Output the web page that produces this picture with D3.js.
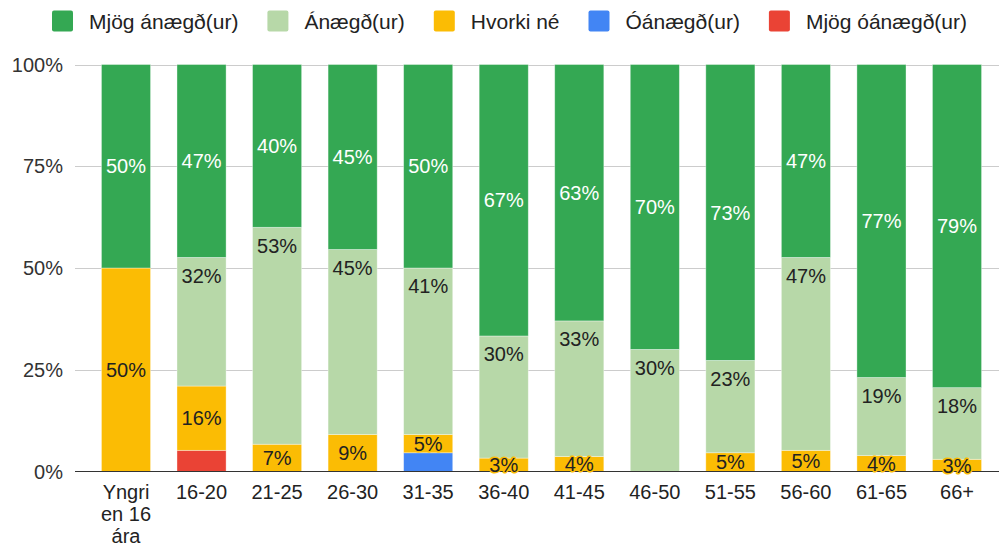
<!DOCTYPE html>
<html>
<head>
<meta charset="utf-8">
<script src="https://cdn.jsdelivr.net/npm/d3@7"></script>
<style>
    body { margin: 0; background: #fff; }
    svg { display: block; font-family: "Liberation Sans", Arial, sans-serif; }
</style>
</head>
<body>
<div id="chart"></div>
<script>
var categories = ["Yngri en 16 ára", "16-20", "21-25", "26-30", "31-35", "36-40",
    "41-45", "46-50", "51-55", "56-60", "61-65", "66+"];

// percentages per age group
var mjogAnaegd  = [50, 47.4, 40.0, 45.45, 50.0, 66.7, 63.0, 70, 72.7, 47.4, 76.9, 79.4];
var anaegd      = [0, 31.6, 53.3, 45.45, 40.9, 30.0, 33.3, 30, 22.7, 47.4, 19.2, 17.6];
var hvorkiNe    = [50, 15.8, 6.7, 9.1, 4.5, 3.3, 3.7, 0, 4.6, 5.2, 3.9, 3.0];
var oanaegd     = [0, 0, 0, 0, 4.6, 0, 0, 0, 0, 0, 0, 0];
var mjogOanaegd = [0, 5.2, 0, 0, 0, 0, 0, 0, 0, 0, 0, 0];

var seriesNames = ["Mjög ánægð(ur)", "Ánægð(ur)", "Hvorki né", "Óánægð(ur)", "Mjög óánægð(ur)"];
var seriesColors = ["#34a853", "#b7d8a8", "#fbbc04", "#4285f4", "#ea4335"];
var seriesLabelColors = ["#fff", "#222", "#222", "#222", "#222"];
var seriesShowLabels = [true, true, true, false, false];
// where the value label sits in its segment
var seriesLabelPos = ["center", "top", "center", "center", "center"];
var yTicks = [0, 25, 50, 75, 100];

var seriesValues = [mjogAnaegd, anaegd, hvorkiNe, oanaegd, mjogOanaegd];

var width = 999,
    height = 544;

var rows = categories.map(function(c, i) {
    var row = { cat: c };
    seriesNames.forEach(function(s, j) { row[s] = seriesValues[j][i]; });
    return row;
});

// stack from the bottom: red first, dark green last
var stack = d3.stack()
    .keys(seriesNames.slice().reverse())
    .offset(d3.stackOffsetExpand);
var layers = stack(rows);

var x = d3.scaleBand()
    .domain(categories)
    .range([75, 1008])
    .paddingInner(0.35)
    .paddingOuter(0.35);

var y = d3.scaleLinear()
    .domain([0, 1])
    .range([471.5, 64.5]);

var svg = d3.select("#chart")
    .append("svg")
    .attr("width", width)
    .attr("height", height);

// grid
svg.append("g")
    .selectAll("line")
    .data(yTicks.filter(function(t) { return t > 0; }))
    .enter()
    .append("line")
    .attr("x1", 75)
    .attr("x2", width)
    .attr("y1", function(d) { return Math.round(y(d / 100)) + 0.5; })
    .attr("y2", function(d) { return Math.round(y(d / 100)) + 0.5; })
    .attr("stroke", "#cccccc")
    .attr("stroke-width", 1);

// y tick labels
svg.append("g")
    .selectAll("text")
    .data(yTicks)
    .enter()
    .append("text")
    .attr("x", 63)
    .attr("y", function(d) { return y(d / 100); })
    .attr("dy", "0.36em")
    .attr("text-anchor", "end")
    .attr("font-size", 20)
    .attr("fill", "#333")
    .text(function(d) { return d + "%"; });

// bars
var layerG = svg.append("g")
    .selectAll("g")
    .data(layers)
    .enter()
    .append("g")
    .attr("fill", function(d) { return seriesColors[seriesNames.indexOf(d.key)]; });

layerG.selectAll("rect")
    .data(function(d) { return d.filter(function(p) { return p[1] - p[0] > 0; }); })
    .enter()
    .append("rect")
    .attr("x", function(d) { return x(d.data.cat); })
    .attr("width", x.bandwidth())
    .attr("y", function(d) { return y(d[1]); })
    .attr("height", function(d) { return y(d[0]) - y(d[1]); })
    .attr("stroke", "#fff")
    .attr("stroke-opacity", 0.45)
    .attr("stroke-width", 0.8);

// baseline
svg.append("line")
    .attr("x1", 75)
    .attr("x2", width)
    .attr("y1", 471.5)
    .attr("y2", 471.5)
    .attr("stroke", "#333")
    .attr("stroke-width", 1.2);

// value labels
layers.forEach(function(layer) {
    var si = seriesNames.indexOf(layer.key);
    if (!seriesShowLabels[si]) return;
    svg.append("g")
        .selectAll("text")
        .data(layer.filter(function(p) { return p[1] - p[0] > 0; }))
        .enter()
        .append("text")
        .attr("x", function(d) { return x(d.data.cat) + x.bandwidth() / 2; })
        .attr("y", function(d) {
            if (seriesLabelPos[si] == "top") return y(d[1]) + 18;
            return y((d[0] + d[1]) / 2);
        })
        .attr("dy", "0.36em")
        .attr("text-anchor", "middle")
        .attr("font-size", 20)
        .attr("fill", seriesLabelColors[si])
        .attr("stroke", seriesColors[si])
        .attr("stroke-width", 3)
        .attr("stroke-linejoin", "round")
        .attr("paint-order", "stroke")
        .text(function(d) { return Math.round((d[1] - d[0]) * 100) + "%"; });
});

// x labels with wrapping
var xl = svg.append("g")
    .selectAll("text")
    .data(categories)
    .enter()
    .append("text")
    .attr("x", function(d) { return x(d) + x.bandwidth() / 2; })
    .attr("y", 499)
    .attr("text-anchor", "middle")
    .attr("font-size", 20)
    .attr("fill", "#222");

xl.each(function(d) {
    var t = d3.select(this),
        words = d.split(" "),
        line = [],
        maxW = x.step() - 8;
    var ts = t.append("tspan").attr("x", t.attr("x")).attr("dy", 0);
    words.forEach(function(w) {
        line.push(w);
        ts.text(line.join(" "));
        if (ts.node().getComputedTextLength() > maxW && line.length > 1) {
            line.pop();
            ts.text(line.join(" "));
            line = [w];
            ts = t.append("tspan").attr("x", t.attr("x")).attr("dy", 22).text(w);
        }
    });
});

// legend
var legend = svg.append("g");
var lx = 52;
seriesNames.forEach(function(s, i) {
    legend.append("rect")
        .attr("x", lx)
        .attr("y", 10.5)
        .attr("width", 21)
        .attr("height", 21)
        .attr("rx", 2)
        .attr("fill", seriesColors[i]);
    var t = legend.append("text")
        .attr("x", lx + 37)
        .attr("y", 21)
        .attr("dy", "0.36em")
        .attr("font-size", 21)
        .attr("fill", "#222")
        .text(s);
    lx += 37 + t.node().getComputedTextLength() + 29;
});
</script>
</body>
</html>
